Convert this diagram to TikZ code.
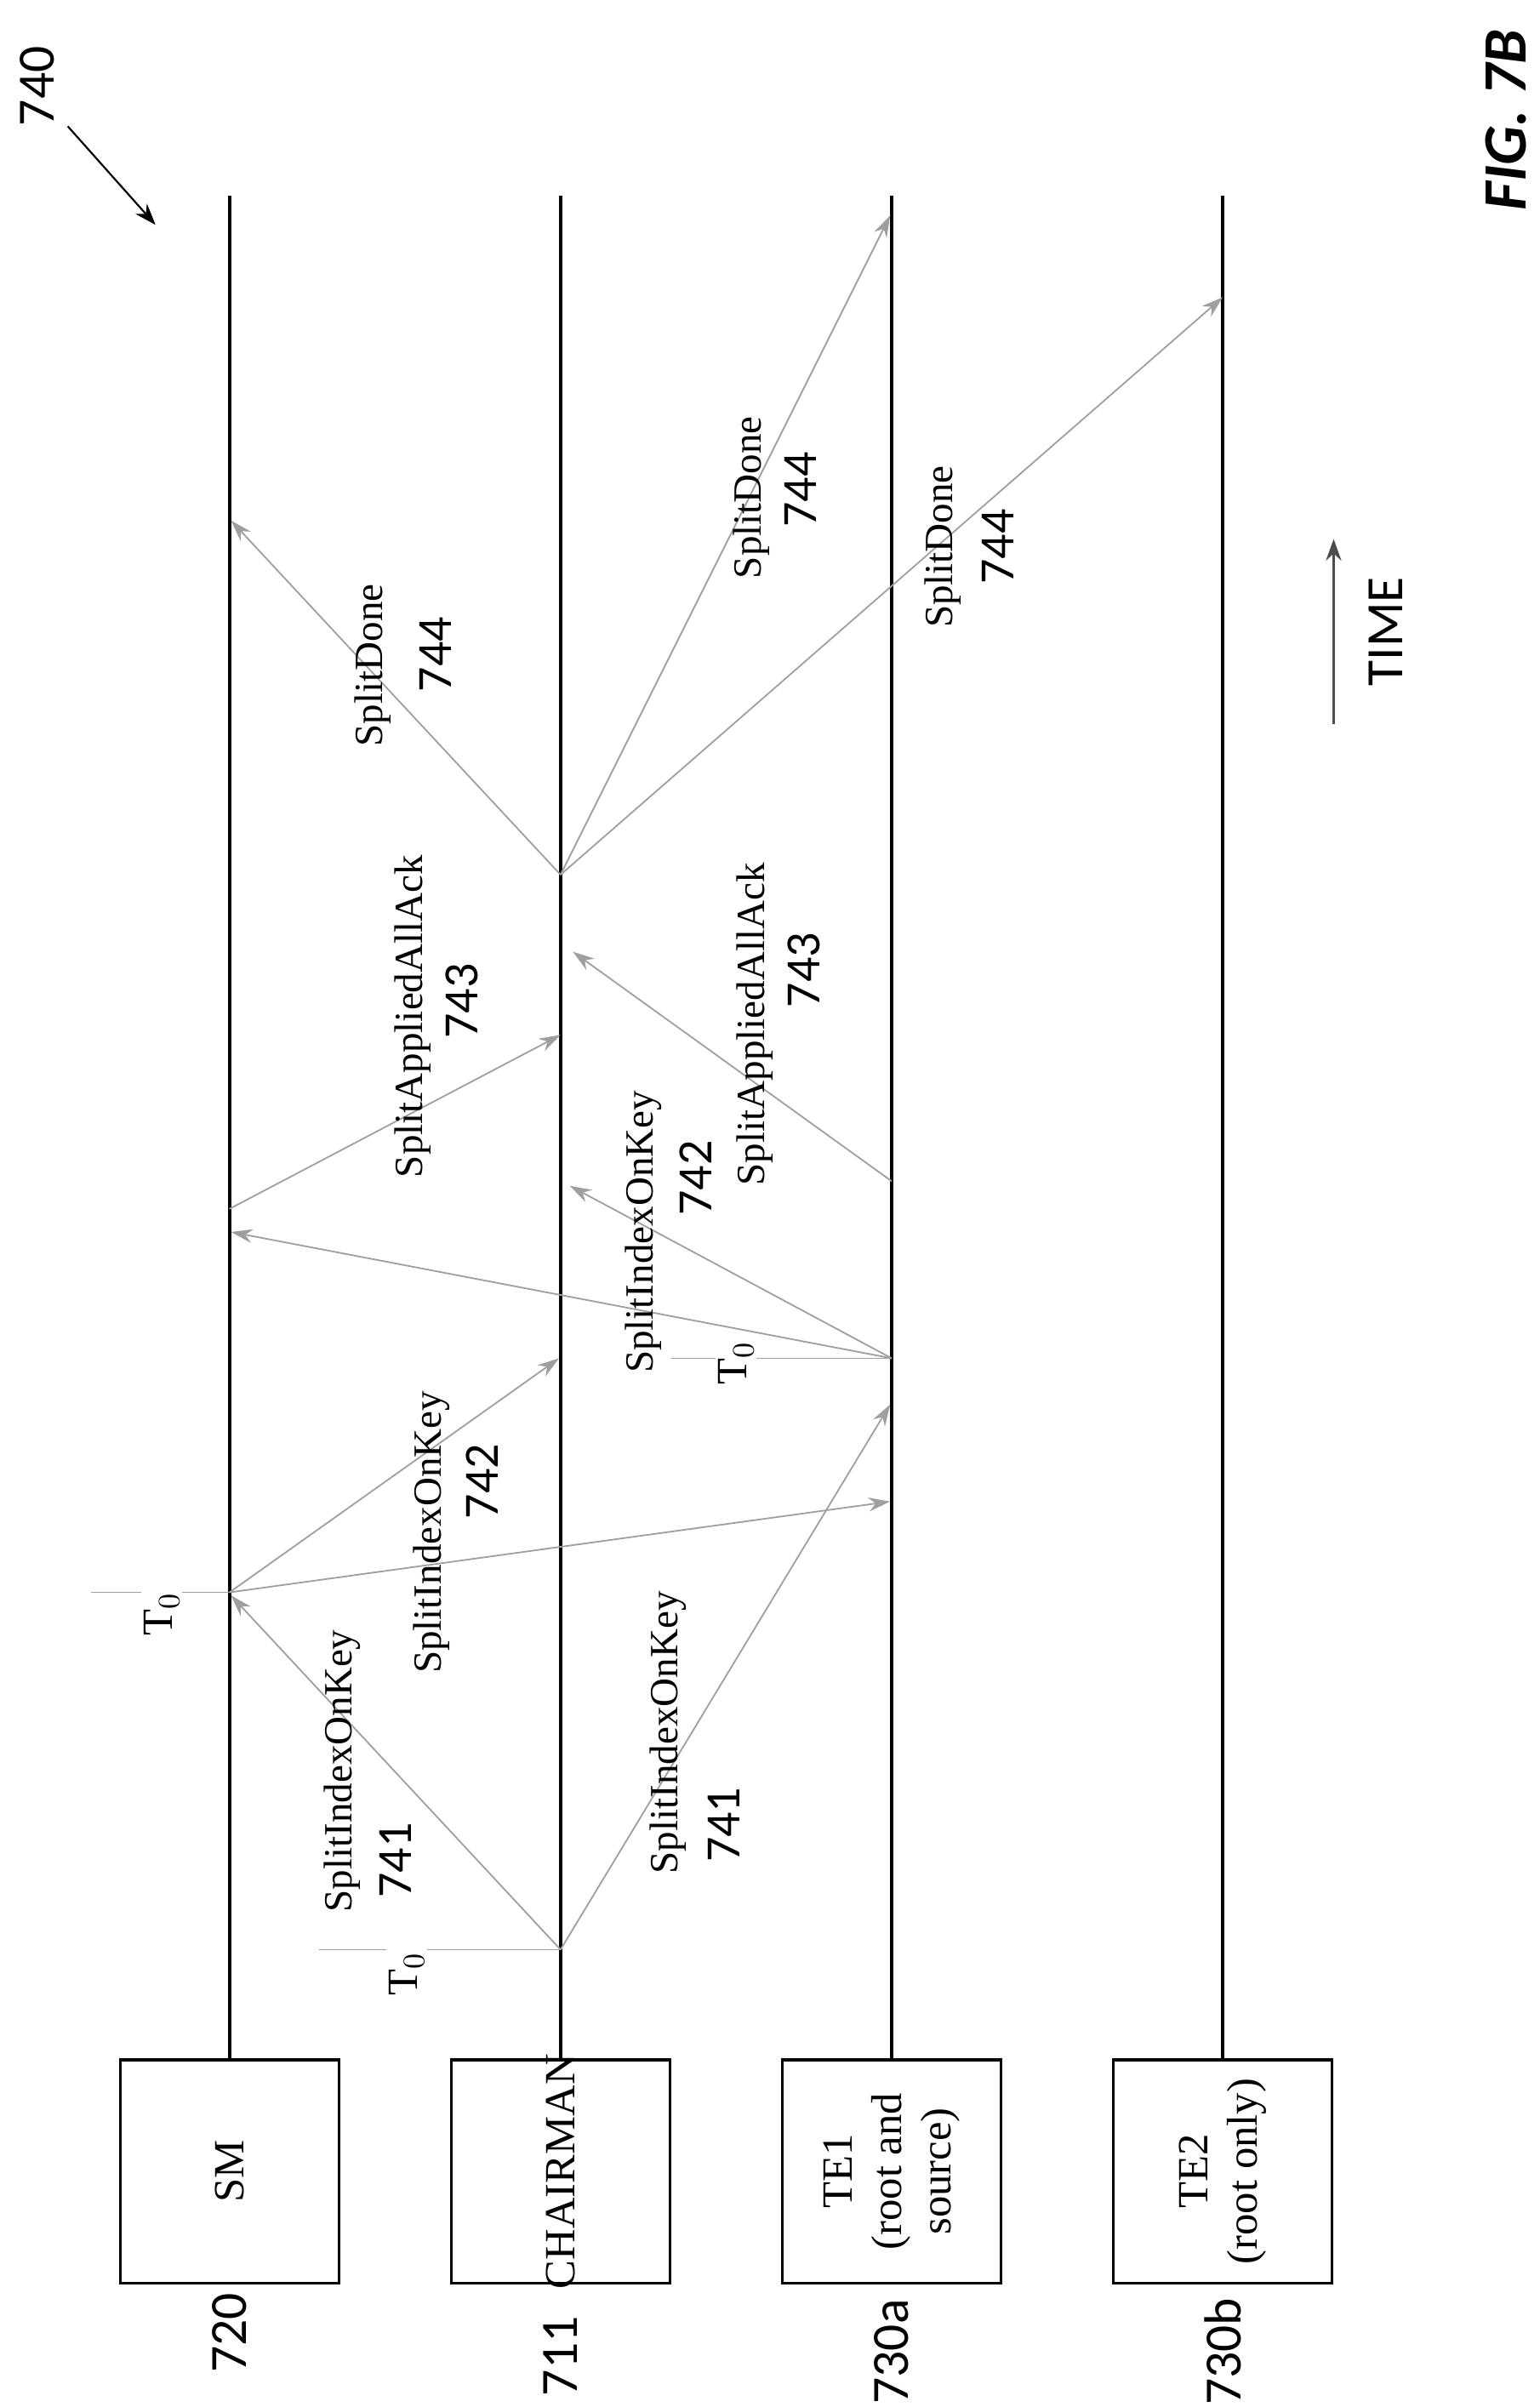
\documentclass[tikz,border=0pt]{standalone}
\usepackage{fontspec}
\setmainfont{Liberation Serif}
\newfontfamily\numf{Carlito}
\usetikzlibrary{arrows.meta}
\begin{document}
\begin{tikzpicture}[x=0.5pt,y=-0.5pt,
 box/.style={draw,line width=0.9pt,rotate=90,minimum width=72.5pt,minimum height=71pt,align=center,font=\fontsize{14}{16}\selectfont,inner sep=1pt},
 life/.style={line width=1pt},
 msg/.style={draw=gray!75,line width=0.5pt,-{Stealth[length=7pt,width=4.5pt]}},
 tick/.style={draw=gray!75,line width=0.5pt},
 lbl/.style={rotate=90,font=\fontsize{13}{15}\selectfont,inner sep=0pt},
 num/.style={rotate=90,font=\numf\fontsize{16}{18}\selectfont,inner sep=0pt},
 t0/.style={rotate=90,fill=white,font=\fontsize{14}{16}\selectfont,inner sep=1pt},
 ref/.style={rotate=90,font=\numf\fontsize{17}{19}\selectfont,inner sep=0pt}]
\useasboundingbox (0,0) rectangle (1000,1563);
% boxes
\node[box] (sm) at (149,1410) {SM};
\node[box] (ch) at (364,1410) {};
\node[rotate=90,font=\fontsize{14}{16}\selectfont,inner sep=0pt] (cht) at (364,1410) {CHAIRMAN};
\node[box] (te1) at (579,1410) {TE1\\(root and\\source)};
\node[box] (te2) at (794,1410) {TE2\\(root only)};
\node[ref] (r720) at (149,1515) {720};
\node[ref] (r711) at (364,1530) {711};
\node[ref] (r730a) at (579,1527) {730a};
\node[ref] (r730b) at (794,1527) {730b};
% lifelines
\coordinate (smT) at (149,127); \coordinate (chT) at (364,127);
\coordinate (t1T) at (579,127); \coordinate (t2T) at (794,127);
\draw[life] (sm.east) -- (smT);
\draw[life] (ch.east) -- (chT);
\draw[life] (te1.east) -- (t1T);
\draw[life] (te2.east) -- (t2T);
% points
\coordinate (c1) at (364,1266);
\coordinate (s1) at (149,1034);
\coordinate (e1) at (579,882);
\coordinate (c5) at (364,568);
% T0 ticks
\coordinate (c1t) at (207,1266); \draw[tick] (c1t) -- (c1);
\node[t0] (tc) at (264,1282) {T$_0$};
\coordinate (s1t) at (59,1034); \draw[tick] (s1t) -- (s1);
\node[t0] (ts) at (105,1048) {T$_0$};
\coordinate (e1t) at (436,882); \draw[tick] (e1t) -- (e1);
\node[t0] (te) at (478,885) {T$_0$};
% 741
\coordinate (a1) at (150,1036); \draw[msg] (c1) -- (a1);
\coordinate (a2) at (578,912); \draw[msg] (c1) -- (a2);
% 742
\coordinate (a3) at (363,882); \draw[msg] (s1) -- (a3);
\coordinate (a4) at (578,975); \draw[msg] (s1) -- (a4);
\coordinate (a5) at (150,800); \draw[msg] (e1) -- (a5);
\coordinate (a6) at (370,770); \draw[msg] (e1) -- (a6);
% 743
\coordinate (s2) at (149,785); \coordinate (a7) at (364,672); \draw[msg] (s2) -- (a7);
\coordinate (e2) at (579,767); \coordinate (a8) at (372,618); \draw[msg] (e2) -- (a8);
% 744
\coordinate (a9) at (150,338); \draw[msg] (c5) -- (a9);
\coordinate (a10) at (578,140); \draw[msg] (c5) -- (a10);
\coordinate (a11) at (794,193); \draw[msg] (c5) -- (a11);
% labels
\node[lbl] (l1a) at (222,1150) {SplitIndexOnKey}; \node[num] (n1a) at (257,1208) {741};
\node[lbl] (l1b) at (434,1125) {SplitIndexOnKey}; \node[num] (n1b) at (470,1185) {741};
\node[lbl] (l2a) at (280,995) {SplitIndexOnKey}; \node[num] (n2a) at (313,962) {742};
\node[lbl] (l2b) at (418,800) {SplitIndexOnKey}; \node[num] (n2b) at (452,765) {742};
\node[lbl] (l3a) at (268,660) {SplitAppliedAllAck}; \node[num] (n3a) at (300,650) {743};
\node[lbl] (l3b) at (490,665) {SplitAppliedAllAck}; \node[num] (n3b) at (522,630) {743};
\node[lbl] (l4a) at (242,432) {SplitDone}; \node[num] (n4a) at (283,425) {744};
\node[lbl] (l4b) at (488,323) {SplitDone}; \node[num] (n4b) at (520,318) {744};
\node[lbl] (l4c) at (612,355) {SplitDone}; \node[num] (n4c) at (648,355) {744};
% time
\coordinate (tm1) at (866,470); \coordinate (tm2) at (866,350);
\draw[draw=gray!60!black,line width=0.8pt,-{Stealth[length=7pt,width=5pt]}] (tm1) -- (tm2);
\node[rotate=90,font=\numf\fontsize{17}{19}\selectfont] (time) at (900,410) {TIME};
% 740
\node[ref] (r740) at (24,56) {740};
\coordinate (p1) at (44,82); \coordinate (p2) at (101,146);
\draw[line width=0.6pt,-{Stealth[length=7pt,width=5pt]}] (p1) -- (p2);
\node[rotate=90,font=\numf\bfseries\itshape\fontsize{20}{22}\selectfont] (fig) at (978,78) {FIG. 7B};
\end{tikzpicture}
\end{document}
